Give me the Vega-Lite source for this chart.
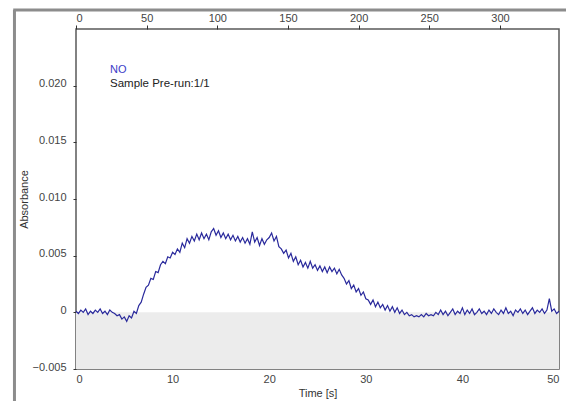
{
  "$schema": "https://vega.github.io/schema/vega-lite/v6.json",
  "autosize": {"type": "none"},
  "padding": {"left": 76, "top": 29, "right": 7, "bottom": 32},
  "width": 483,
  "height": 340,
  "background": "white",
  "config": {
    "font": "Liberation Sans",
    "view": {"stroke": "#5a5a5a", "strokeWidth": 1.5},
    "axis": {"grid": false, "domain": false, "labelFontSize": 11, "labelColor": "#444444", "titleFontSize": 11, "titleFontWeight": "normal", "titleColor": "#333333", "tickColor": "#333333"}
  },
  "datasets": {
    "trace": [
      {"t":0.00,"a":0.0001},{"t":0.25,"a":-0.0001},{"t":0.50,"a":0.0002},{"t":0.75,"a":0.0000},{"t":1.00,"a":0.0003},
      {"t":1.25,"a":-0.0002},{"t":1.50,"a":0.0001},{"t":1.75,"a":-0.0001},{"t":2.00,"a":0.0002},{"t":2.25,"a":0.0000},
      {"t":2.50,"a":0.0003},{"t":2.75,"a":-0.0001},{"t":3.00,"a":0.0001},{"t":3.25,"a":-0.0002},{"t":3.50,"a":0.0002},
      {"t":3.75,"a":0.0000},{"t":4.00,"a":-0.0001},{"t":4.25,"a":-0.0003},{"t":4.50,"a":-0.0002},{"t":4.75,"a":-0.0006},
      {"t":5.00,"a":-0.0004},{"t":5.25,"a":-0.0008},{"t":5.50,"a":-0.0003},{"t":5.75,"a":-0.0005},{"t":6.00,"a":0.0001},
      {"t":6.25,"a":-0.0001},{"t":6.50,"a":0.0006},{"t":6.75,"a":0.0009},{"t":7.00,"a":0.0016},{"t":7.25,"a":0.0022},
      {"t":7.50,"a":0.0024},{"t":7.75,"a":0.0030},{"t":8.00,"a":0.0029},{"t":8.25,"a":0.0036},{"t":8.50,"a":0.0035},
      {"t":8.75,"a":0.0042},{"t":9.00,"a":0.0045},{"t":9.25,"a":0.0043},{"t":9.50,"a":0.0049},{"t":9.75,"a":0.0048},
      {"t":10.00,"a":0.0053},{"t":10.25,"a":0.0051},{"t":10.50,"a":0.0056},{"t":10.75,"a":0.0053},{"t":11.00,"a":0.0061},
      {"t":11.25,"a":0.0057},{"t":11.50,"a":0.0065},{"t":11.75,"a":0.0061},{"t":12.00,"a":0.0067},{"t":12.25,"a":0.0063},
      {"t":12.50,"a":0.0069},{"t":12.75,"a":0.0064},{"t":13.00,"a":0.0070},{"t":13.25,"a":0.0065},{"t":13.50,"a":0.0069},
      {"t":13.75,"a":0.0064},{"t":14.00,"a":0.0071},{"t":14.25,"a":0.0074},{"t":14.50,"a":0.0068},{"t":14.75,"a":0.0072},
      {"t":15.00,"a":0.0066},{"t":15.25,"a":0.0070},{"t":15.50,"a":0.0065},{"t":15.75,"a":0.0069},{"t":16.00,"a":0.0064},
      {"t":16.25,"a":0.0068},{"t":16.50,"a":0.0063},{"t":16.75,"a":0.0067},{"t":17.00,"a":0.0062},{"t":17.25,"a":0.0066},
      {"t":17.50,"a":0.0061},{"t":17.75,"a":0.0065},{"t":18.00,"a":0.0060},{"t":18.25,"a":0.0071},{"t":18.50,"a":0.0062},
      {"t":18.75,"a":0.0066},{"t":19.00,"a":0.0059},{"t":19.25,"a":0.0065},{"t":19.50,"a":0.0060},{"t":19.75,"a":0.0064},
      {"t":20.00,"a":0.0066},{"t":20.25,"a":0.0070},{"t":20.50,"a":0.0063},{"t":20.75,"a":0.0067},{"t":21.00,"a":0.0058},
      {"t":21.25,"a":0.0056},{"t":21.50,"a":0.0052},{"t":21.75,"a":0.0055},{"t":22.00,"a":0.0048},{"t":22.25,"a":0.0052},
      {"t":22.50,"a":0.0045},{"t":22.75,"a":0.0049},{"t":23.00,"a":0.0042},{"t":23.25,"a":0.0046},{"t":23.50,"a":0.0040},
      {"t":23.75,"a":0.0044},{"t":24.00,"a":0.0039},{"t":24.25,"a":0.0045},{"t":24.50,"a":0.0039},{"t":24.75,"a":0.0042},
      {"t":25.00,"a":0.0037},{"t":25.25,"a":0.0041},{"t":25.50,"a":0.0036},{"t":25.75,"a":0.0040},{"t":26.00,"a":0.0035},
      {"t":26.25,"a":0.0040},{"t":26.50,"a":0.0036},{"t":26.75,"a":0.0039},{"t":27.00,"a":0.0034},{"t":27.25,"a":0.0038},
      {"t":27.50,"a":0.0033},{"t":27.75,"a":0.0030},{"t":28.00,"a":0.0025},{"t":28.25,"a":0.0028},{"t":28.50,"a":0.0021},
      {"t":28.75,"a":0.0024},{"t":29.00,"a":0.0018},{"t":29.25,"a":0.0021},{"t":29.50,"a":0.0015},{"t":29.75,"a":0.0018},
      {"t":30.00,"a":0.0012},{"t":30.25,"a":0.0011},{"t":30.50,"a":0.0007},{"t":30.75,"a":0.0011},{"t":31.00,"a":0.0005},
      {"t":31.25,"a":0.0009},{"t":31.50,"a":0.0004},{"t":31.75,"a":0.0007},{"t":32.00,"a":0.0002},{"t":32.25,"a":0.0006},
      {"t":32.50,"a":0.0001},{"t":32.75,"a":0.0005},{"t":33.00,"a":0.0000},{"t":33.25,"a":0.0004},{"t":33.50,"a":-0.0001},
      {"t":33.75,"a":0.0002},{"t":34.00,"a":-0.0002},{"t":34.25,"a":0.0000},{"t":34.50,"a":-0.0003},{"t":34.75,"a":-0.0002},
      {"t":35.00,"a":-0.0004},{"t":35.25,"a":-0.0003},{"t":35.50,"a":-0.0004},{"t":35.75,"a":-0.0002},{"t":36.00,"a":-0.0004},
      {"t":36.25,"a":-0.0001},{"t":36.50,"a":-0.0003},{"t":36.75,"a":-0.0002},{"t":37.00,"a":-0.0003},{"t":37.25,"a":0.0000},
      {"t":37.50,"a":-0.0002},{"t":37.75,"a":0.0002},{"t":38.00,"a":-0.0002},{"t":38.25,"a":0.0001},{"t":38.50,"a":-0.0003},
      {"t":38.75,"a":0.0000},{"t":39.00,"a":0.0003},{"t":39.25,"a":-0.0002},{"t":39.50,"a":0.0001},{"t":39.75,"a":-0.0001},
      {"t":40.00,"a":0.0004},{"t":40.25,"a":-0.0002},{"t":40.50,"a":0.0002},{"t":40.75,"a":-0.0001},{"t":41.00,"a":0.0003},
      {"t":41.25,"a":-0.0002},{"t":41.50,"a":0.0000},{"t":41.75,"a":0.0003},{"t":42.00,"a":-0.0001},{"t":42.25,"a":0.0001},
      {"t":42.50,"a":-0.0002},{"t":42.75,"a":0.0002},{"t":43.00,"a":-0.0001},{"t":43.25,"a":0.0003},{"t":43.50,"a":0.0000},
      {"t":43.75,"a":-0.0002},{"t":44.00,"a":0.0002},{"t":44.25,"a":-0.0001},{"t":44.50,"a":0.0004},{"t":44.75,"a":-0.0001},
      {"t":45.00,"a":0.0001},{"t":45.25,"a":-0.0003},{"t":45.50,"a":0.0002},{"t":45.75,"a":0.0000},{"t":46.00,"a":0.0003},
      {"t":46.25,"a":-0.0001},{"t":46.50,"a":0.0002},{"t":46.75,"a":-0.0002},{"t":47.00,"a":0.0001},{"t":47.25,"a":0.0004},
      {"t":47.50,"a":-0.0001},{"t":47.75,"a":0.0002},{"t":48.00,"a":0.0000},{"t":48.25,"a":0.0003},{"t":48.50,"a":-0.0001},
      {"t":48.75,"a":0.0002},{"t":49.00,"a":0.0012},{"t":49.25,"a":0.0001},{"t":49.50,"a":0.0003},{"t":49.75,"a":-0.0001},
      {"t":50.00,"a":0.0001}
    ],
    "band": [{"t0": 0, "t1": 50, "a0": 0, "a1": -0.005}],
    "notes": [
      {"label": "NO", "kind": "compound"},
      {"label": "Sample Pre-run:1/1", "kind": "run"}
    ],
    "frame": [{"edge": "window"}]
  },
  "layer": [
    {
      "layer": [
        {
          "data": {"name": "band"},
          "mark": {"type": "rect", "fill": "#ececec"},
          "encoding": {
            "x": {"field": "t0", "type": "quantitative", "scale": {"domain": [0, 50], "nice": false, "zero": false},
              "axis": {"orient": "bottom", "values": [0, 10, 20, 30, 40, 50], "format": "d", "tickSize": 0, "labelPadding": 4, "title": "Time [s]", "titlePadding": 3}},
            "x2": {"field": "t1"},
            "y": {"field": "a0", "type": "quantitative", "scale": {"domain": [-0.005, 0.025], "nice": false, "zero": false},
              "axis": {"values": [-0.005, 0, 0.005, 0.01, 0.015, 0.02], "labelExpr": "datum.value == 0 ? '0' : format(datum.value, '.3f')", "tickSize": 3, "labelPadding": 7, "labelOffset": -2,
                "title": "Absorbance", "titleAngle": -90, "titleX": -52, "titleY": 170, "titleAlign": "center", "titleBaseline": "middle"}},
            "y2": {"field": "a1"}
          }
        },
        {
          "data": {"name": "trace"},
          "mark": {"type": "line", "color": "#2a2a9c", "strokeWidth": 1.2},
          "encoding": {
            "x": {"field": "t", "type": "quantitative"},
            "y": {"field": "a", "type": "quantitative"}
          }
        },
        {
          "data": {"name": "notes"},
          "transform": [{"filter": "datum.kind == 'compound'"}],
          "mark": {"type": "text", "align": "left", "baseline": "middle", "fontSize": 11, "color": "#3c3cc8"},
          "encoding": {
            "x": {"datum": 3.52},
            "y": {"datum": 0.02134},
            "text": {"field": "label"}
          }
        },
        {
          "data": {"name": "notes"},
          "transform": [{"filter": "datum.kind == 'run'"}],
          "mark": {"type": "text", "align": "left", "baseline": "middle", "fontSize": 11.5, "color": "#222222"},
          "encoding": {
            "x": {"datum": 3.52},
            "y": {"datum": 0.02015},
            "text": {"field": "label"}
          }
        },
        {
          "data": {"name": "frame"},
          "mark": {"type": "rule", "color": "#8c8c8c", "strokeWidth": 3, "clip": false},
          "encoding": {
            "x": {"datum": -6.37},
            "y": {"datum": 0.02668},
            "y2": {"datum": -0.0079}
          }
        },
        {
          "data": {"name": "frame"},
          "mark": {"type": "rule", "color": "#8c8c8c", "strokeWidth": 3, "clip": false},
          "encoding": {
            "x": {"datum": -6.5},
            "x2": {"datum": 50.8},
            "y": {"datum": 0.02668}
          }
        }
      ]
    },
    {
      "data": {"values": [{}]},
      "mark": {"type": "point", "opacity": 0},
      "encoding": {
        "x": {"datum": 0, "type": "quantitative",
          "scale": {"domain": [0, 341.8], "nice": false, "zero": false},
          "axis": {"orient": "top", "values": [0, 50, 100, 150, 200, 250, 300], "tickSize": 4, "labelPadding": 2, "title": null}}
      }
    }
  ],
  "resolve": {"scale": {"x": "independent"}}
}
